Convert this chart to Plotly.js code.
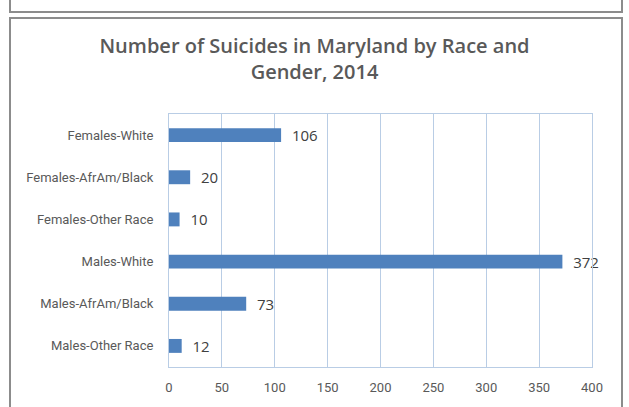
<!DOCTYPE html>
<html><head><meta charset="utf-8">
<script src="https://cdn.plot.ly/plotly-3.0.1.min.js"></script>
<style>html,body{margin:0;padding:0;background:#fff}#c{width:629px;height:407px}</style>
</head><body><div id="c"></div>
<script>
const categories = ["Females-White","Females-AfrAm/Black","Females-Other Race","Males-White","Males-AfrAm/Black","Males-Other Race"];
const values = [106, 20, 10, 372, 73, 12];
const xTicks = [0,50,100,150,200,250,300,350,400];

const L=169, R=592, T=114, B=367, W=629, H=407;
const px = x => (x-L)/(R-L);
const py = y => (B-y)/(B-T);
const lab = "Roboto, sans-serif";

const trace = {
  type:"bar", orientation:"h", y:categories, x:values,
  marker:{color:"#4f81bd"}, width:0.33,
  text: values.map(v=>"\u00a0\u00a0"+v), textposition:"outside", constraintext:"none",
  textfont:{family:"Open Sans, sans-serif", size:15, color:"#404040"},
  cliponaxis:false, hoverinfo:"none"
};
const layout = {
  width:W, height:H, margin:{l:L, r:W-R, t:T, b:H-B},
  paper_bgcolor:"#fff", plot_bgcolor:"#fff", showlegend:false,
  title:{text:"Number of Suicides in Maryland by Race and<br>Gender, 2014",
    font:{family:"Open Sans, sans-serif", size:20, color:"#595959", weight:600},
    x:0.5, xanchor:"center", yref:"container", y:1-53/H, yanchor:"top"},
  xaxis:{range:[0,400], tickvals:xTicks, showgrid:true, gridcolor:"#b9cde5", gridwidth:1,
    zeroline:false, showline:true, linecolor:"#b9cde5", mirror:true, ticks:"",
    tickfont:{family:lab, size:13, color:"#595959"}, ticklabelstandoff:8, fixedrange:true},
  yaxis:{autorange:"reversed", type:"category", showgrid:false, showline:true, linecolor:"#b9cde5",
    mirror:true, ticks:"", tickfont:{family:lab, size:13, color:"#595959"}, ticklabelstandoff:12},
  bargap:0.67,
  shapes:[
    {type:"rect", xref:"paper", yref:"paper", x0:px(10), x1:px(622), y0:py(12), y1:py(-10),
     line:{color:"#8c8c8c", width:2}, fillcolor:"rgba(0,0,0,0)"},
    {type:"rect", xref:"paper", yref:"paper", x0:px(10), x1:px(622), y0:py(420), y1:py(18),
     line:{color:"#8c8c8c", width:2}, fillcolor:"rgba(0,0,0,0)"}
  ]
};
Plotly.newPlot("c",[trace],layout,{staticPlot:true});
</script></body></html>
